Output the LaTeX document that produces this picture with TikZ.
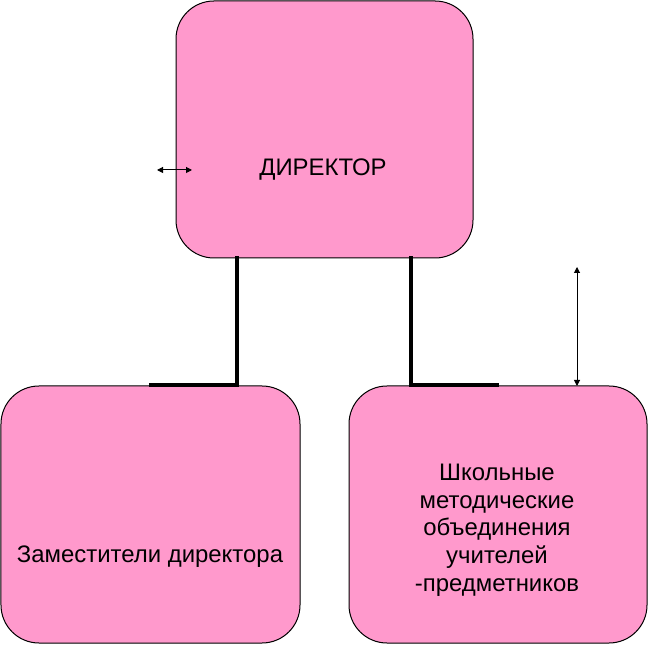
\documentclass[tikz,border=0pt]{standalone}
\usepackage{fontspec}
\setmainfont{Liberation Sans}
\usetikzlibrary{arrows.meta}
\definecolor{boxpink}{HTML}{FF99CC}
\tikzset{
  orgbox/.style={draw=black, line width=1bp, fill=boxpink, rounded corners=38bp,
    minimum width=#1, minimum height=257bp, inner sep=0pt, outer sep=0pt},
  boxtext/.style={font=\fontsize{24}{27.75}\selectfont, align=center, inner sep=0pt},
  conn/.style={line width=3.2bp, line cap=rect},
  dimarrow/.style={line width=1bp, {Triangle[length=6bp,width=6bp]}-{Triangle[length=6bp,width=6bp]}}
}
\begin{document}
\begin{tikzpicture}[x=1bp,y=1bp]
\useasboundingbox (0,0) rectangle (648,645);
\node[orgbox=297bp] (dir) at (324.5,515.5) {};
\node[orgbox=299bp] (zam) at (150.5,130.5) {};
\node[orgbox=298bp] (shmo) at (498,130.5) {};
\node[boxtext] (dirtext) at (323,475) {ДИРЕКТОР};
\node[boxtext] (zamtext) at (150,88) {Заместители директора};
\node[boxtext] (shmotext) at (497,115) {Школьные\\методические\\объединения\\учителей\\-предметников};
\coordinate (l1) at (151,260);
\coordinate (l2) at (237,260);
\coordinate (r1) at (411,260);
\coordinate (r2) at (497,260);
\draw[conn] (dir.south -| l2) -- (l2) -- (l1);
\draw[conn] (dir.south -| r1) -- (r1) -- (r2);
\coordinate (a1) at (577,378);
\draw[dimarrow] (a1) -- (a1 |- shmo.north);
\coordinate (b1) at (157,475);
\coordinate (b2) at (192,475);
\draw[dimarrow] (b1) -- (b2);
\end{tikzpicture}
\end{document}
